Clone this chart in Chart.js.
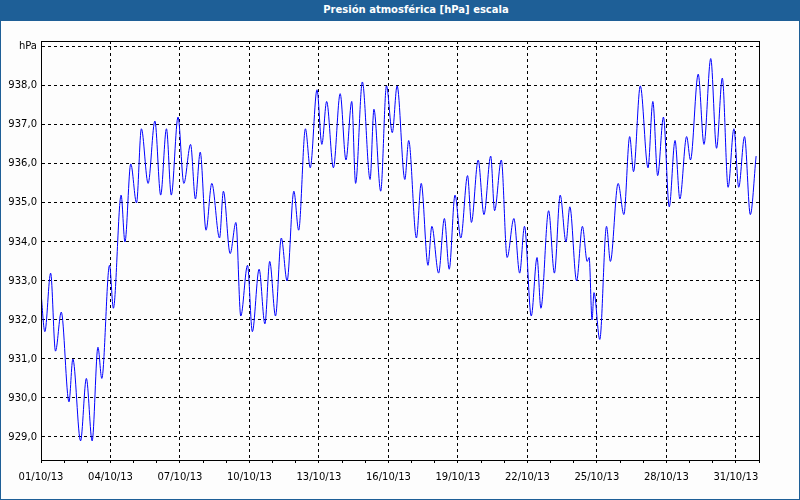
<!DOCTYPE html>
<html>
<head>
<meta charset="utf-8">
<script src="https://cdn.jsdelivr.net/npm/chart.js@4.4.1/dist/chart.umd.min.js"></script>
<style>
  html, body { margin: 0; padding: 0; background: #ffffff; }
  #frame { position: relative; width: 800px; height: 500px; box-sizing: border-box; border: 1px solid #1e5f97; background: #fdfdfd; overflow: hidden; }
  #titlebar { position: absolute; left: 0; top: 0; width: 800px; height: 20px; background: #1e5f97; }
  #titletext { position: absolute; left: 0; top: 3px; width: 830px; text-align: center; color: #ffffff; font: bold 10px "DejaVu Sans", Verdana, sans-serif; white-space: nowrap; }
  canvas { position: absolute; left: -1px; top: -1px; }
</style>
</head>
<body>
<div id="frame">
  <canvas id="c" width="800" height="500"></canvas>
  <div id="titlebar"><div id="titletext">Presión atmosférica [hPa] escala</div></div>
</div>
<script>
// Hours since 01/10/13 00:00
const hours = [0,4,10,15,21,29,33,41,47,53,59,63,71,75,83,87,93,99,104,111,118,124,130,135,142,148,155,160,165,171,177,185,189,196,202,207,214,219,226,232,237,243,249,255,262,267,274,279,286,291,296,303,310,316,322,326,333,341,345,352,358,364,369,377,381,389,394,401,405,412,418,423,429,435,442,446,453,459,466,470,477,483,490,496,501,508,514,518,526,532,538,544,548,555,561,566,568,571,573,579,586,590,598,604,610,614,621,629,634,639,645,651,657,662,669,673,681,687,694,700,706,712,718,723,729,735,741];
// Pressure (hPa)
const pressure = [932.7,931.7,933.2,931.2,932.2,929.9,931.0,928.9,930.5,928.9,931.3,930.5,933.4,932.3,935.2,934.0,936.0,935.0,936.9,935.5,937.1,935.2,936.9,935.2,937.2,935.5,936.5,935.1,936.3,934.3,935.5,934.1,935.3,933.7,934.5,932.1,933.4,931.7,933.3,931.9,933.5,932.1,934.1,933.0,935.3,934.3,936.9,935.9,937.9,936.5,937.6,935.9,937.8,936.1,937.6,935.5,938.1,935.6,937.4,935.3,938.0,936.8,938.0,935.6,936.6,934.1,935.5,933.4,934.4,933.2,934.6,933.3,935.2,934.1,935.7,934.5,936.1,934.7,936.2,934.8,936.1,933.6,934.6,933.2,934.4,932.1,933.6,932.3,934.8,933.2,935.2,934.0,934.9,933.0,934.4,933.5,933.6,932.0,932.7,931.5,934.4,933.5,935.5,934.7,936.7,935.8,938.0,935.9,937.6,935.7,937.2,934.9,936.6,935.1,936.7,936.1,938.3,936.5,938.7,936.4,938.2,935.4,936.9,935.4,936.7,934.7,936.2];
// Axis ticks
const xTickHours = [0,24,48,72,96,120,144,168,192,216,240,264,288,312,336,360,384,408,432,456,480,504,528,552,576,600,624,648,672,696,720,744];
const xTickLabels = ['01/10/13','04/10/13','07/10/13','10/10/13','13/10/13','16/10/13','19/10/13','22/10/13','25/10/13','28/10/13','31/10/13'];
const yTickValues = [929,930,931,932,933,934,935,936,937,938,939];
const yTickLabels = ['929,0','930,0','931,0','932,0','933,0','934,0','935,0','936,0','937,0','938,0','hPa'];

const points = hours.map((h, i) => ({ x: h, y: pressure[i] }));

const frameBox = {
  id: 'frameBox',
  afterDraw(chart) {
    const { ctx, chartArea: a } = chart;
    ctx.save();
    ctx.strokeStyle = '#000';
    ctx.lineWidth = 1;
    ctx.strokeRect(Math.round(a.left) + 0.5, Math.round(a.top) + 0.5, Math.round(a.right - a.left), Math.round(a.bottom - a.top));
    ctx.restore();
  }
};

Chart.defaults.font.family = '"DejaVu Sans", Verdana, sans-serif';
Chart.defaults.font.size = 10;
Chart.defaults.color = '#000';

new Chart(document.getElementById('c'), {
  type: 'line',
  data: {
    datasets: [{
      data: points,
      borderColor: '#0000ff',
      borderWidth: 1,
      pointRadius: 0,
      cubicInterpolationMode: 'monotone',
      fill: false
    }]
  },
  options: {
    responsive: false,
    animation: false,
    devicePixelRatio: 1,
    layout: { padding: { left: 1, right: 41, top: 41, bottom: 0 } },
    plugins: { legend: { display: false }, tooltip: { enabled: false } },
    scales: {
      x: {
        type: 'linear',
        min: 0,
        max: 744,
        afterBuildTicks(scale) { scale.ticks = xTickHours.map(v => ({ value: v })); },
        afterFit(scale) { scale.height = 40; },
        ticks: {
          autoSkip: false,
          maxRotation: 0,
          padding: 8,
          color: '#000',
          callback: (v, i) => (i % 3 === 0 && xTickLabels[i / 3] !== undefined) ? xTickLabels[i / 3] : ''
        },
        grid: {
          color: ctx => (ctx.index % 3 === 0 && ctx.index > 0 && ctx.index < 31) ? '#000' : 'rgba(0,0,0,0)',
          tickColor: '#000',
          tickLength: 3,
          tickBorderDash: [],
          lineWidth: 1
        },
        border: { display: true, color: '#000', width: 1, dash: [3, 3] }
      },
      y: {
        type: 'linear',
        min: 928.41,
        max: 939.15,
        afterBuildTicks(scale) { scale.ticks = yTickValues.map(v => ({ value: v })); },
        afterFit(scale) { scale.width = 40; },
        ticks: {
          padding: 4,
          color: '#000',
          callback: (v, i) => yTickLabels[i]
        },
        grid: {
          color: '#000',
          drawTicks: false,
          lineWidth: 1
        },
        border: { display: true, color: '#000', width: 1, dash: [3, 3] }
      }
    }
  },
  plugins: [frameBox]
});
</script>
</body>
</html>
